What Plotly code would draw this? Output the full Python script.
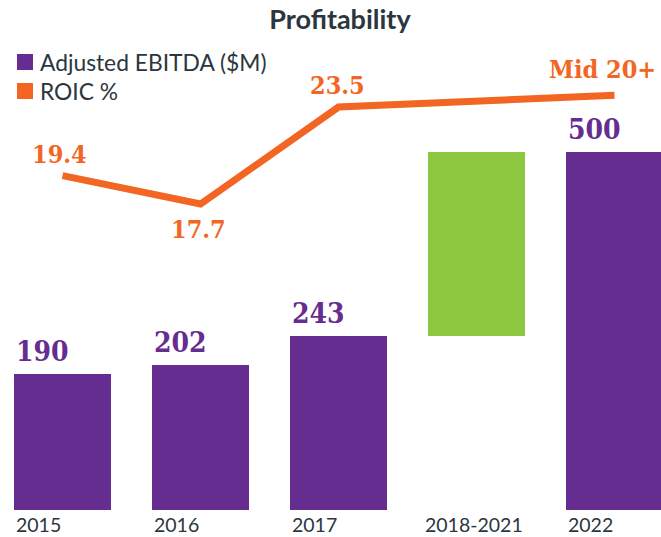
import plotly.graph_objects as go

# ---- data ----
categories = ["2015", "2016", "2017", "2018-2021", "2022"]
ebitda = [190, 202, 243, None, 500]
ebitda_labels = ["190", "202", "243", "", "500"]
target_base = 243
target_top = 500
roic = [19.4, 17.7, 23.5, None, 24.2]
roic_labels = ["19.4", "17.7", "23.5", "", "Mid 20+"]

PURPLE = "#662d91"
ORANGE = "#f26522"
GREEN = "#8dc63f"
DARK = "#2b3640"
SLAB = "DejaVu Serif Condensed, DejaVu Serif"

W, H = 661, 537
T, B = 40, 27
PH = H - T - B
xs = list(range(len(categories)))
BW = 0.703

fig = go.Figure()

# EBITDA bars
fig.add_trace(go.Bar(
    x=[x for x, v in zip(xs, ebitda) if v is not None],
    y=[v for v in ebitda if v is not None],
    width=BW, marker=dict(color=PURPLE, line=dict(width=0)),
    showlegend=False, hoverinfo="skip"))

# 2018-2021 target range bar (floating)
fig.add_trace(go.Bar(
    x=[3], y=[target_top - target_base], base=[target_base],
    width=BW, marker=dict(color=GREEN, line=dict(width=0)),
    showlegend=False, hoverinfo="skip"))

# ROIC line
fig.add_trace(go.Scatter(
    x=xs, y=roic, mode="lines", connectgaps=True,
    line=dict(color=ORANGE, width=7), yaxis="y2",
    showlegend=False, hoverinfo="skip"))

annotations = []
# bar value labels (left aligned to bar edge)
for x, v, lab in zip(xs, ebitda, ebitda_labels):
    if v is None:
        continue
    annotations.append(dict(
        x=x - BW / 2, y=v, xref="x", yref="y", text=f"<b>{lab}</b>",
        showarrow=False, xanchor="left", yanchor="bottom", yshift=4, xshift=0,
        font=dict(family=SLAB, size=28, color=PURPLE)))

# ROIC labels
roic_pos = {0: (-3, 21), 1: (-2, -25), 2: (-1, 22), 4: (None, 26)}
for x, v, lab in zip(xs, roic, roic_labels):
    if v is None:
        continue
    dx, dy = roic_pos[x]
    if x == 4:
        annotations.append(dict(
            x=x, y=v, xref="x", yref="y2", text=f"<b>{lab}</b>",
            showarrow=False, xanchor="left", yanchor="middle",
            xshift=-68, yshift=dy,
            font=dict(family=SLAB, size=25, color=ORANGE)))
    else:
        annotations.append(dict(
            x=x, y=v, xref="x", yref="y2", text=f"<b>{lab}</b>",
            showarrow=False, xanchor="center", yanchor="middle",
            xshift=dx, yshift=dy,
            font=dict(family=SLAB, size=25, color=ORANGE)))

# category labels under bars
for x, c in zip(xs, categories):
    if c == "2018-2021":
        ax, anc = x + BW / 2, "right"
    else:
        ax, anc = x - BW / 2, "left"
    annotations.append(dict(
        x=ax, y=0, xref="x", yref="paper", text=c, showarrow=False,
        xanchor=anc, yanchor="top", yshift=-1,
        font=dict(family="Lato", size=19.5, color=DARK)))

def py(p):
    return (H - B - p) / PH

# custom legend
shapes = [
    dict(type="rect", xref="paper", yref="paper", x0=17 / W, x1=33 / W,
         y0=py(70), y1=py(54), fillcolor=PURPLE, line=dict(width=0)),
    dict(type="rect", xref="paper", yref="paper", x0=17 / W, x1=33 / W,
         y0=py(99), y1=py(83), fillcolor=ORANGE, line=dict(width=0)),
]
annotations += [
    dict(x=38 / W, y=py(62), xref="paper", yref="paper", text="Adjusted EBITDA ($M)",
         showarrow=False, xanchor="left", yanchor="middle",
         font=dict(family="Lato", size=22.8, color=DARK)),
    dict(x=38 / W, y=py(91), xref="paper", yref="paper", text="ROIC %",
         showarrow=False, xanchor="left", yanchor="middle",
         font=dict(family="Lato", size=22.8, color=DARK)),
]

fig.update_layout(
    width=W, height=H,
    margin=dict(l=0, r=0, t=T, b=B),
    paper_bgcolor="white", plot_bgcolor="white",
    title=dict(text="<b>Profitability</b>", x=340 / W, xanchor="center",
               y=1 - 20 / H, yanchor="middle",
               font=dict(family="Lato", size=27, color=DARK)),
    xaxis=dict(range=[-0.453, 4.337], showticklabels=False, showgrid=False,
               zeroline=False, showline=False, ticks=""),
    yaxis=dict(range=[0, PH / 0.717], showticklabels=False, showgrid=False,
               zeroline=False, showline=False),
    yaxis2=dict(range=[-0.60, 27.51], overlaying="y", side="right",
                showticklabels=False, showgrid=False, zeroline=False, showline=False),
    bargap=0, shapes=shapes, annotations=annotations,
)

fig.write_html(
    "out.html",
    config={"displayModeBar": False},
    post_script="document.body.style.margin='0';document.body.style.overflow='hidden';",
)
